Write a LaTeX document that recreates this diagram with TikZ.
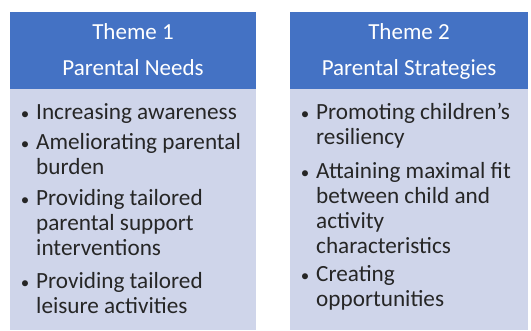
\documentclass[tikz,border=0pt]{standalone}
\usepackage{fontspec}
\setmainfont{Carlito}
\usepackage{xcolor}
\usetikzlibrary{positioning}

\definecolor{themeblue}{HTML}{4472C4}
\definecolor{panelbg}{HTML}{CFD5EA}
\definecolor{ink}{HTML}{262626}

\tikzset{
    headbox/.style={fill=themeblue, text=white, align=center, inner sep=0pt,
        minimum height=77pt, font=\fontsize{23}{36}\selectfont},
    panel/.style={fill=panelbg, inner sep=0pt, minimum height=241pt},
    entry/.style={anchor=north west, align=left, inner sep=0pt, text=ink,
        font=\fontsize{23.2}{25}\selectfont},
    dot/.style={anchor=north, inner sep=0pt, text=ink,
        font=\fontsize{17}{25}\selectfont}
}

\begin{document}
\begin{tikzpicture}[x=1pt, y=-1pt]
                        \useasboundingbox (0, 0) rectangle (531, 330);

                        \node[headbox, minimum width=246pt] (head1) at (133, 50.5) {\strut Theme 1\\Parental Needs\strut};
                        \node[headbox, minimum width=238pt] (head2) at (409, 50.5) {\strut Theme 2\\Parental Strategies\strut};
                        \node[panel, minimum width=246pt, below=0pt of head1] (panel1) {};
                        \node[panel, minimum width=238pt, below=0pt of head2] (panel2) {};

                        \node[entry] (n1a) at (36, 101.5) {\strut Increasing awareness};
                        \node[entry] (n1b) at (36, 131.5) {\strut Ameliorating parental\\burden};
                        \node[entry] (n1c) at (36, 187.5) {\strut Providing tailored\\parental support\\interventions};
                        \node[entry] (n1d) at (36, 270.5) {\strut Providing tailored\\leisure activities};

                        \node[entry] (n2a) at (316, 101.5) {\strut Promoting children’s\\resiliency};
                        \node[entry] (n2b) at (316, 160.5) {\strut Attaining maximal fit\\between child and\\activity\\characteristics};
                        \node[entry] (n2c) at (316, 263.5) {\strut Creating\\opportunities};

                        \foreach \n in {n1a,n1b,n1c,n1d,n2a,n2b,n2c} {
                            \node[dot] (\n-dot) at ([xshift=-11pt]\n.north west) {\strut\textbullet};
                        }
                    \end{tikzpicture}
\end{document}
